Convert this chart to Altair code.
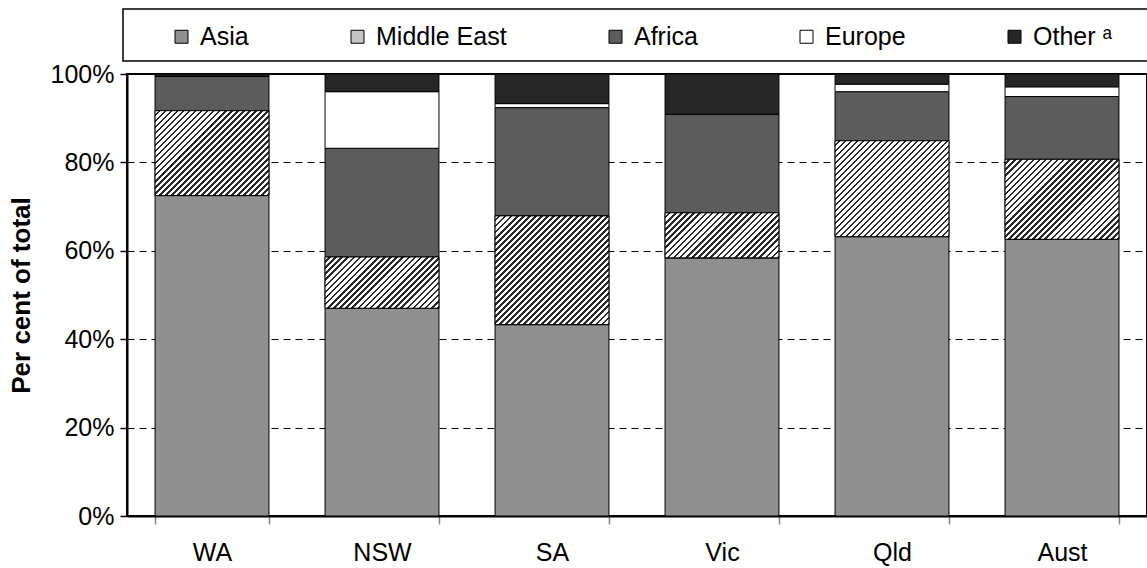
import altair as alt
import pandas as pd

# Share of arrivals by region of birth, per cent of each state's total
states = ["WA", "NSW", "SA", "Vic", "Qld", "Aust"]
regions = ["Asia", "Middle East", "Africa", "Europe", "Other"]

asia = [72.5, 47.0, 43.3, 58.4, 63.2, 62.6]
middle_east = [19.2, 11.6, 24.6, 10.2, 21.7, 18.1]
africa = [7.8, 24.6, 24.5, 22.3, 11.1, 14.2]
europe = [0.0, 12.8, 0.9, 0.0, 1.7, 2.2]
other = [0.5, 4.0, 6.7, 9.1, 2.3, 2.9]

y_ticks = [0, 0.2, 0.4, 0.6, 0.8, 1.0]

series = {"Asia": asia, "Middle East": middle_east, "Africa": africa,
          "Europe": europe, "Other": other}

# stacked table: each segment's lower and upper bound as a fraction
rows = []
for i, st in enumerate(states):
    base = 0.0
    for r in regions:
        v = series[r][i]
        rows.append({"state": st, "region": r, "value": v,
                     "start": base / 100, "end": (base + v) / 100})
        base += v
df = pd.DataFrame(rows)

W, H = 1020, 442
PAD_INNER, PAD_OUTER = 0.33, 0.165
bar_w = W / len(states) * (1 - PAD_INNER)

fills = ["#8f8f8f", "#c6c6c6", "#5c5c5c", "#ffffff", "#262626"]

x_enc = alt.X("state:N", sort=states,
              scale=alt.Scale(domain=states, paddingInner=PAD_INNER, paddingOuter=PAD_OUTER),
              axis=alt.Axis(title=None, labelAngle=0, labelFontSize=25, labelColor="black",
                            labelPadding=16, tickBand="extent", tickSize=8,
                            tickColor="#808080", tickWidth=1.5, domainColor="black",
                            domainWidth=2, grid=False))
y_enc = alt.Y("start:Q", scale=alt.Scale(domain=[0, 1], nice=False),
              axis=alt.Axis(values=y_ticks, format=".0%", labelFontSize=25,
                            labelColor="black", labelPadding=6, tickSize=7,
                            tickColor="black", tickWidth=1.5, domainColor="black",
                            domainWidth=2, grid=True, gridColor="black", gridWidth=1,
                            gridDash=[7, 5], title="Per cent of total",
                            titleFontSize=26, titleFontWeight="bold", titleColor="black",
                            titleAngle=-90, titleX=-106, titleBaseline="middle"))

# frame around the legend row
legend_box = alt.Chart(pd.DataFrame({"k": [0]})).mark_rect(
    fill="white", stroke="black", strokeWidth=1.5
).encode(x=alt.value(-4), x2=alt.value(1060), y=alt.value(-65), y2=alt.value(-13))

bars = alt.Chart(df).mark_bar(stroke="black", strokeWidth=1).encode(
    x=x_enc,
    y=y_enc,
    y2="end:Q",
    color=alt.Color("region:N", sort=regions,
                    scale=alt.Scale(domain=regions, range=fills),
                    legend=alt.Legend(
                        title=None, orient="none", legendX=42, legendY=-50,
                        direction="horizontal", columns=5, gridAlign="each",
                        columnPadding=96, symbolType="square", symbolSize=169,
                        symbolStrokeColor="black", symbolStrokeWidth=1,
                        symbolOpacity=1, labelFontSize=25, labelColor="black",
                        labelOffset=6, labelLimit=400, padding=0,
                        labelExpr="datum.label == 'Other' ? 'Other \u1d43' : datum.label")),
)


def stripes(h_px, w_px, period=4.3, dark_frac=0.42, dark="#2a2a2a", light="#ffffff"):
    """Diagonal '/' hatching as a hard-stop linear gradient at 45 degrees."""
    h_px = max(h_px, 1.0)
    s = (w_px + h_px) * w_px * h_px / (w_px ** 2 + h_px ** 2)
    n = max(1, int(round((w_px + h_px) / (2 ** 0.5 * period))))
    stops = []
    for k in range(n):
        a = k / n
        b = (k + 1 - dark_frac) / n
        c = (k + 1) / n
        stops += [alt.GradientStop(color=light, offset=a),
                  alt.GradientStop(color=light, offset=b),
                  alt.GradientStop(color=dark, offset=b),
                  alt.GradientStop(color=dark, offset=c)]
    return alt.LinearGradient(gradient="linear", stops=stops,
                              x1=0, y1=0, x2=s / h_px, y2=s / w_px)


# hatched Middle East segments, one layer per state so each gets its own hatch
hatch_layers = []
for st, v in zip(states, middle_east):
    seg = df[(df.state == st) & (df.region == "Middle East")]
    hatch_layers.append(
        alt.Chart(seg).mark_bar(fill=stripes(v / 100 * H, bar_w), stroke="black",
                                strokeWidth=1).encode(x=x_enc, y=y_enc, y2="end:Q")
    )

chart = alt.layer(legend_box, bars, *hatch_layers).properties(
    width=W, height=H,
    padding={"left": 127, "top": 74, "right": 0, "bottom": 52},
    autosize="none",
).configure(font="Liberation Sans").configure_view(
    stroke="black", strokeWidth=2
)

chart.save("out.html", embed_options={"renderer": "svg", "actions": False})
